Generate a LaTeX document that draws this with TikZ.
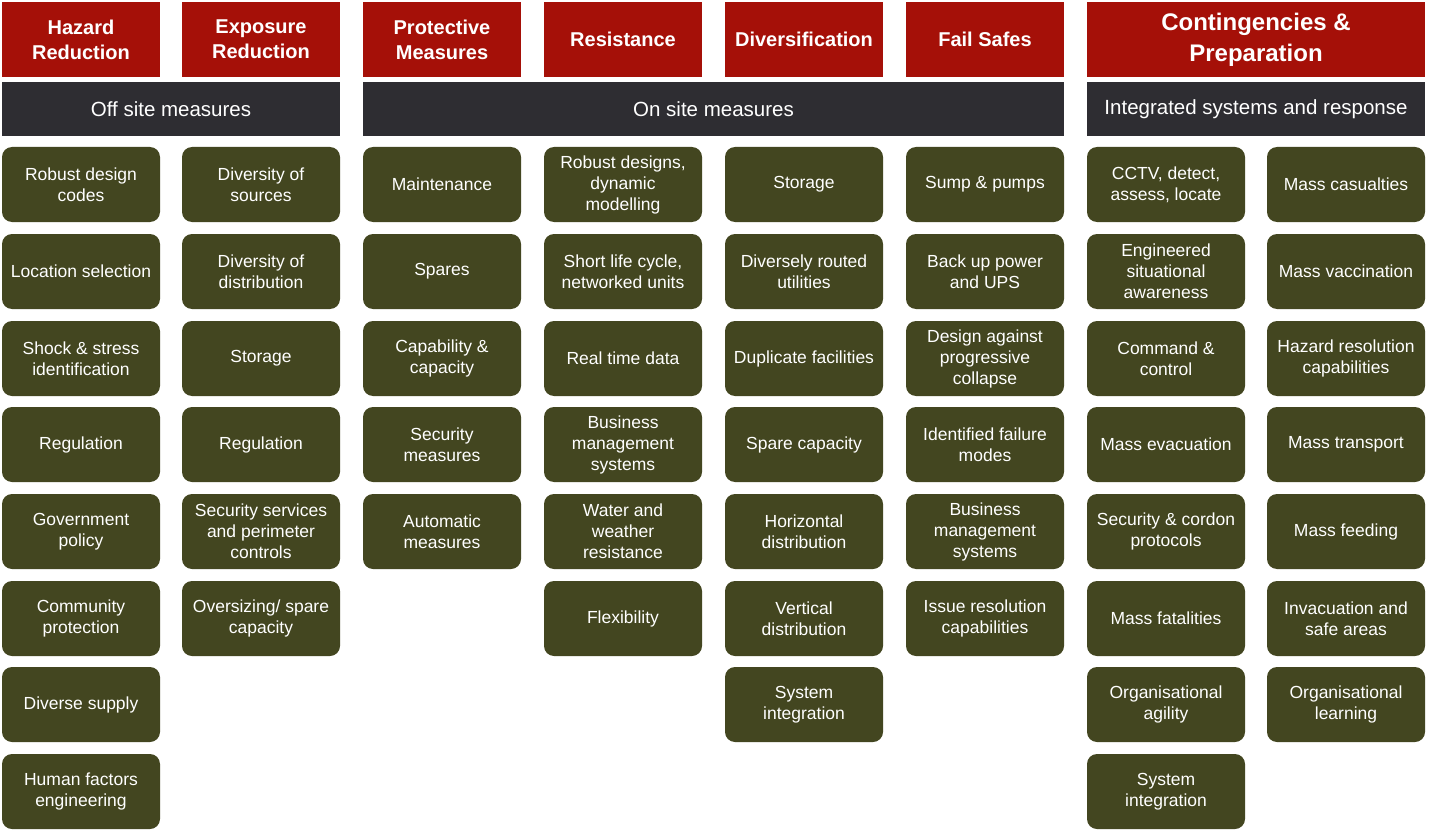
\documentclass[tikz,border=0pt]{standalone}
\usepackage{fontspec}
\setmainfont{Liberation Sans}
\definecolor{hdrred}{HTML}{A51008}
\definecolor{bardark}{HTML}{2E2D32}
\definecolor{boxgreen}{HTML}{434620}
\tikzset{
  hdr/.style={fill=hdrred, text=white, minimum width=158pt, minimum height=75pt, inner sep=0pt, align=center, font=\fontsize{20}{25}\selectfont\bfseries},
  bigHdr/.style={hdr, minimum width=338pt, font=\fontsize{24}{31}\selectfont\bfseries},
  bar/.style={fill=bardark, text=white, minimum height=54pt, inner sep=0pt, align=center, font=\fontsize{20.5}{24}\selectfont},
  gbox/.style={fill=boxgreen, text=white, rounded corners=10pt, minimum width=158pt, minimum height=75pt, inner sep=0pt, align=center, font=\fontsize{17.5}{21}\selectfont}
}
\begin{document}
\begin{tikzpicture}[x=1pt,y=-1pt]
\useasboundingbox (0,0) rectangle (1430,832);
\fill[white] (0,0) rectangle (1430,832);
% headers
\node[hdr] (h1) at (81,39.5) {Hazard\\Reduction};
\node[hdr] (h2) at (261,39.5) {Exposure\\Reduction};
\node[hdr] (h3) at (442,39.5) {Protective\\Measures};
\node[hdr] (h4) at (623,39.5) {Resistance};
\node[hdr] (h5) at (804,39.5) {Diversification};
\node[hdr] (h6) at (985,39.5) {Fail Safes};
\node[bigHdr] (h7) at (1256,39.5) {Contingencies \&\\Preparation};
% bars
\node[bar, minimum width=338pt] (b1) at (171,109) {Off site measures};
\node[bar, minimum width=701pt] (b2) at (713.5,109) {On site measures};
\node[bar, minimum width=338pt] (b3) at (1256,109) {Integrated systems and response};
% column 1
\node[gbox] (c1r1) at (81,184.5) {Robust design\\codes};
\node[gbox] (c1r2) at (81,271.5) {Location selection};
\node[gbox] (c1r3) at (81,358.5) {Shock \& stress\\identification};
\node[gbox] (c1r4) at (81,444.5) {Regulation};
\node[gbox] (c1r5) at (81,531.5) {Government\\policy};
\node[gbox] (c1r6) at (81,618.5) {Community\\protection};
\node[gbox] (c1r7) at (81,704.5) {Diverse supply};
\node[gbox] (c1r8) at (81,791.5) {Human factors\\engineering};
% column 2
\node[gbox] (c2r1) at (261,184.5) {Diversity of\\sources};
\node[gbox] (c2r2) at (261,271.5) {Diversity of\\distribution};
\node[gbox] (c2r3) at (261,358.5) {Storage};
\node[gbox] (c2r4) at (261,444.5) {Regulation};
\node[gbox] (c2r5) at (261,531.5) {Security services\\and perimeter\\controls};
\node[gbox] (c2r6) at (261,618.5) {Oversizing/ spare\\capacity};
% column 3
\node[gbox] (c3r1) at (442,184.5) {Maintenance};
\node[gbox] (c3r2) at (442,271.5) {Spares};
\node[gbox] (c3r3) at (442,358.5) {Capability \&\\capacity};
\node[gbox] (c3r4) at (442,444.5) {Security\\measures};
\node[gbox] (c3r5) at (442,531.5) {Automatic\\measures};
% column 4
\node[gbox] (c4r1) at (623,184.5) {Robust designs,\\dynamic\\modelling};
\node[gbox] (c4r2) at (623,271.5) {Short life cycle,\\networked units};
\node[gbox] (c4r3) at (623,358.5) {Real time data};
\node[gbox] (c4r4) at (623,444.5) {Business\\management\\systems};
\node[gbox] (c4r5) at (623,531.5) {Water and\\weather\\resistance};
\node[gbox] (c4r6) at (623,618.5) {Flexibility};
% column 5
\node[gbox] (c5r1) at (804,184.5) {Storage};
\node[gbox] (c5r2) at (804,271.5) {Diversely routed\\utilities};
\node[gbox] (c5r3) at (804,358.5) {Duplicate facilities};
\node[gbox] (c5r4) at (804,444.5) {Spare capacity};
\node[gbox] (c5r5) at (804,531.5) {Horizontal\\distribution};
\node[gbox] (c5r6) at (804,618.5) {Vertical\\distribution};
\node[gbox] (c5r7) at (804,704.5) {System\\integration};
% column 6
\node[gbox] (c6r1) at (985,184.5) {Sump \& pumps};
\node[gbox] (c6r2) at (985,271.5) {Back up power\\and UPS};
\node[gbox] (c6r3) at (985,358.5) {Design against\\progressive\\collapse};
\node[gbox] (c6r4) at (985,444.5) {Identified failure\\modes};
\node[gbox] (c6r5) at (985,531.5) {Business\\management\\systems};
\node[gbox] (c6r6) at (985,618.5) {Issue resolution\\capabilities};
% column 7
\node[gbox] (c7r1) at (1166,184.5) {CCTV, detect,\\assess, locate};
\node[gbox] (c7r2) at (1166,271.5) {Engineered\\situational\\awareness};
\node[gbox] (c7r3) at (1166,358.5) {Command \&\\control};
\node[gbox] (c7r4) at (1166,444.5) {Mass evacuation};
\node[gbox] (c7r5) at (1166,531.5) {Security \& cordon\\protocols};
\node[gbox] (c7r6) at (1166,618.5) {Mass fatalities};
\node[gbox] (c7r7) at (1166,704.5) {Organisational\\agility};
\node[gbox] (c7r8) at (1166,791.5) {System\\integration};
% column 8
\node[gbox] (c8r1) at (1346,184.5) {Mass casualties};
\node[gbox] (c8r2) at (1346,271.5) {Mass vaccination};
\node[gbox] (c8r3) at (1346,358.5) {Hazard resolution\\capabilities};
\node[gbox] (c8r4) at (1346,444.5) {Mass transport};
\node[gbox] (c8r5) at (1346,531.5) {Mass feeding};
\node[gbox] (c8r6) at (1346,618.5) {Invacuation and\\safe areas};
\node[gbox] (c8r7) at (1346,704.5) {Organisational\\learning};
\end{tikzpicture}
\end{document}
